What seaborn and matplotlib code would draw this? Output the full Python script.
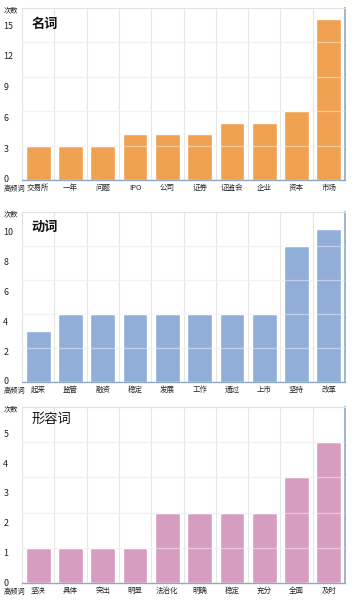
import matplotlib
matplotlib.use("Agg")
import matplotlib.pyplot as plt
import matplotlib.transforms as mtransforms
import seaborn as sns
import pandas as pd

# data
noun_words = ["交易所", "一年", "问题", "IPO", "公司", "证券", "证监会", "企业", "资本", "市场"]
noun_counts = [3, 3, 3, 4, 4, 4, 5, 5, 6, 14]
noun_ticks = [0, 3, 6, 9, 12, 15]

verb_words = ["起来", "监管", "融资", "稳定", "发展", "工作", "通过", "上市", "坚持", "改革"]
verb_counts = [3, 4, 4, 4, 4, 4, 4, 4, 8, 9]
verb_ticks = [0, 2, 4, 6, 8, 10]

adj_words = ["坚决", "具体", "突出", "明显", "法治化", "明确", "稳定", "充分", "全面", "及时"]
adj_counts = [1, 1, 1, 1, 2, 2, 2, 2, 3, 4]
adj_ticks = [0, 1, 2, 3, 4, 5]

sns.set_style("white")
plt.rcParams["font.family"] = ["Noto Sans CJK SC", "DejaVu Sans"]

W, H = 354, 600
fig = plt.figure(figsize=(W / 100, H / 100), dpi=100)

# (title, words, counts, ticks, colour, box px, title weight, title y, label squeeze)
panels = [
    ("名词", noun_words, noun_counts, noun_ticks, "#EFA151", (22, 8, 345, 180), "bold", 0.905, 0.895),
    ("动词", verb_words, verb_counts, verb_ticks, "#90AED8", (22, 212, 345, 382), "semibold", 0.915, 0.878),
    ("形容词", adj_words, adj_counts, adj_ticks, "#D69DC0", (22, 407, 345, 583), "normal", 0.93, 0.845),
]

for title, words, counts, ticks, color, (x0, y0, x1, y1), weight, ty, squeeze in panels:
    ax = fig.add_axes([x0 / W, 1 - y1 / H, (x1 - x0) / W, (y1 - y0) / H])
    df = pd.DataFrame({"word": words, "count": counts})
    sns.barplot(data=df, x="word", y="count", color=color, saturation=1,
                width=0.77, ax=ax, zorder=2)
    ax.set_xlim(-0.5, len(words) - 0.5)
    ax.set_ylim(0, ticks[-1])
    ax.set_yticks(ticks)
    ax.set_yticklabels([])
    ax.set_xticks([i + 0.5 for i in range(len(words) - 1)], minor=True)
    ax.set_axisbelow(True)
    ax.grid(axis="y", which="major", color="#E6E6E6", lw=0.8, zorder=0)
    ax.grid(axis="x", which="minor", color="#E6E6E6", lw=0.8, zorder=0)
    # light lines visible across the bars
    for t in ticks[1:-1]:
        ax.axhline(t, color="white", alpha=0.45, lw=0.9, zorder=3)
    ax.tick_params(axis="both", which="both", length=0)
    ax.tick_params(axis="x", labelsize=5.4, pad=3)
    # y labels sit a bit lower than their grid lines, like the source
    trans = mtransforms.blended_transform_factory(ax.transAxes, ax.transData)
    for t in ticks:
        ax.text(-0.058, t * squeeze, str(t), transform=trans, fontsize=6.4,
                ha="left", va="center", color="#222222")
    ax.set_xlabel("")
    ax.set_ylabel("")
    for side in ["top", "left"]:
        ax.spines[side].set_color("#E2E2E2")
        ax.spines[side].set_linewidth(0.8)
    ax.spines["bottom"].set_color("#8FA9C6")
    ax.spines["bottom"].set_linewidth(1.0)
    ax.spines["right"].set_color("#8DA8C8")
    ax.spines["right"].set_linewidth(1.2)
    ax.text(0.03, ty, title, transform=ax.transAxes, fontsize=9.5,
            fontweight=weight, ha="left", va="center", color="#111111")
    ax.text(-0.058, 0.985, "次数", transform=ax.transAxes, fontsize=5.2,
            ha="left", va="center", color="#222222")
    ax.text(-0.058, -0.05, "高频词", transform=ax.transAxes, fontsize=5.2,
            ha="left", va="center", color="#222222")

fig.savefig("out.png", dpi=100)
